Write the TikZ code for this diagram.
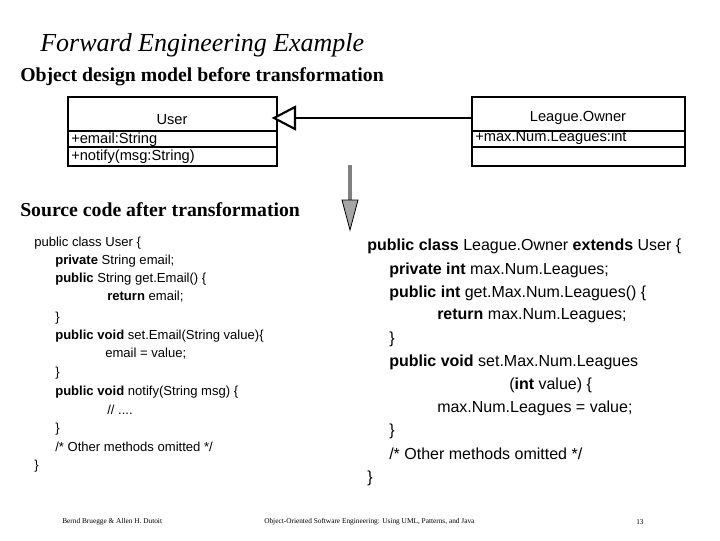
\documentclass[tikz,border=0pt]{standalone}
\usepackage{fontspec}
\setmainfont{Liberation Serif}
\newfontfamily\ls{Liberation Sans}
\begin{document}
\begin{tikzpicture}[x=0.75pt,y=-0.75pt,
  box/.style={draw,line width=1.6pt},
  cl/.style={anchor=west,inner sep=0pt,font=\ls\fontsize{9.8}{12}\selectfont},
  cr/.style={anchor=west,inner sep=0pt,font=\ls\fontsize{12}{14}\selectfont},
  uml/.style={inner sep=0pt,font=\ls\fontsize{11}{13}\selectfont},
  hd/.style={anchor=west,inner sep=0pt,font=\bfseries\fontsize{14.8}{16}\selectfont},
  foot/.style={inner sep=0pt,font=\fontsize{5.5}{6}\selectfont}]
\useasboundingbox (0,0) rectangle (720,540);
\node[anchor=west,inner sep=0pt,font=\itshape\fontsize{19.5}{22}\selectfont] (title) at (40,45) {Forward Engineering Example};
\node[hd] (h1) at (20,77) {Object design model before transformation};
\node[hd] (h2) at (20,210) {Source code after transformation};
% UML
\draw[box] (68,97) rectangle (277,166);
\draw[box] (68,131) -- (277,131) (68,147) -- (277,147);
\node[uml] (u) at (172,120) {User};
\node[uml,anchor=west] (ue) at (71,140) {+email:String};
\node[uml,anchor=west] (un) at (71,157) {+notify(msg:String)};
\coordinate (ut) at (274,118);
\draw[box] (472,97) rectangle (685,166);
\draw[box] (472,131) -- (685,131) (472,147) -- (685,147);
\node[uml] (lo) at (578,118) {League.Owner};
\node[uml,anchor=west] (lm) at (475,138) {+max.Num.Leagues:int};
\coordinate (ls) at (472,118);
\coordinate (tb) at (295,118);
\draw[line width=1.6pt] (ls) -- (tb);
\draw[line width=1.6pt,fill=white] (ut) -- (295,107) -- (295,129) -- cycle;
% grey arrow
\coordinate (a1) at (350,165);
\coordinate (a2) at (350,230);
\draw[gray,line width=2.5pt] (a1) -- (350,200);
\draw[fill=gray!70,draw=black,line width=0.6pt] (342,200) -- (358,200) -- (a2) -- cycle;
% left code
\node[cl] at (34,243) {public class User \{};
\node[cl] at (55,261) {\textbf{private} String email;};
\node[cl] at (55,279) {\textbf{public} String get.Email() \{};
\node[cl] at (107,297) {\textbf{return} email;};
\node[cl] at (55,318) {\}};
\node[cl] at (55,336) {\textbf{public void} set.Email(String value)\{};
\node[cl] at (105,354) {email = value;};
\node[cl] at (55,373) {\}};
\node[cl] at (55,392) {\textbf{public void} notify(String msg) \{};
\node[cl] at (107,410) {// ....};
\node[cl] at (55,429) {\}};
\node[cl] at (55,447) {/* Other methods omitted */};
\node[cl] at (34,466) {\}};
% right code
\node[cr] at (367,246) {\textbf{public class} League.Owner \textbf{extends} User \{};
\node[cr] at (389,270) {\textbf{private int} max.Num.Leagues;};
\node[cr] at (389,293) {\textbf{public int} get.Max.Num.Leagues() \{};
\node[cr] at (437,316) {\textbf{return} max.Num.Leagues;};
\node[cr] at (389,339) {\}};
\node[cr] at (389,362) {\textbf{public void} set.Max.Num.Leagues};
\node[cr] at (509,385) {(\textbf{int} value) \{};
\node[cr] at (437,408) {max.Num.Leagues = value;};
\node[cr] at (389,431) {\}};
\node[cr] at (389,454) {/* Other methods omitted */};
\node[cr] at (367,478) {\}};
% footer
\node[foot,anchor=west] (f1) at (62,522) {Bernd Bruegge \& Allen H. Dutoit};
\node[foot,anchor=west] (f2) at (264,522) {Object-Oriented Software Engineering: Using UML, Patterns, and Java};
\node[foot,anchor=west] (f3) at (636,522) {13};
\end{tikzpicture}
\end{document}
